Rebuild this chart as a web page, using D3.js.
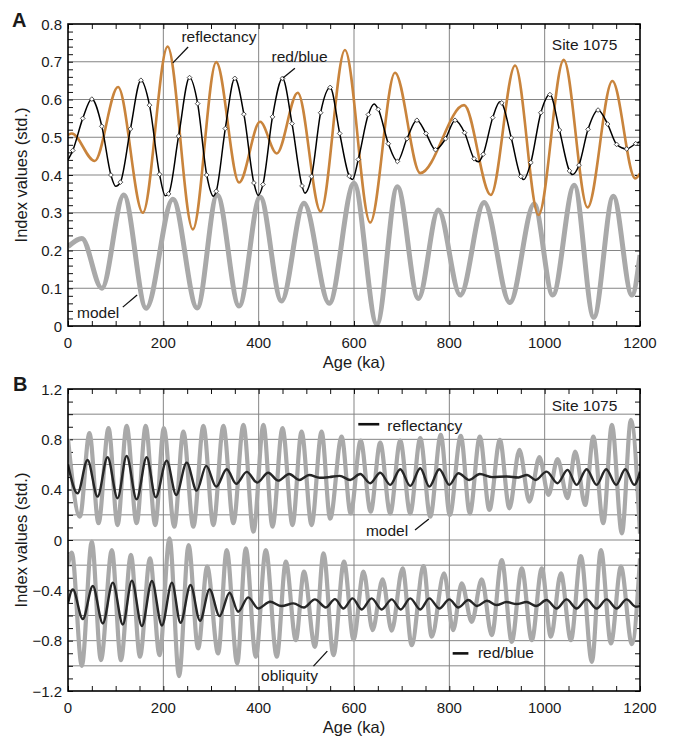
<!DOCTYPE html>
<html>
<head>
<meta charset="utf-8">
<script src="https://cdn.jsdelivr.net/npm/d3@7"></script>
<style>
body { margin: 0; background: #fff; }
text { font-family: "Liberation Sans", Arial, sans-serif; fill: #1a1a1a; }
</style>
</head>
<body>
<script>
// ---- panel A (age ka, index value) ----
var modelA = [[0,0.21],[29,0.232],[71,0.10],[117,0.347],[164,0.047],[220,0.336],[271,0.048],[313,0.347],
  [359,0.053],[403,0.342],[448,0.066],[495,0.325],[548,0.06],[600,0.378],[648,0.005],[691,0.369],
  [735,0.073],[777,0.307],[823,0.082],[873,0.327],[927,0.062],[978,0.323],[1017,0.082],[1062,0.373],
  [1103,0.023],[1144,0.344],[1183,0.082],[1200,0.188]];

var reflA = [[0,0.506],[8,0.51],[56,0.437],[105,0.633],[157,0.30],[209,0.74],[262,0.256],[311,0.699],
  [359,0.38],[403,0.541],[438,0.457],[482,0.618],[530,0.303],[581,0.731],[634,0.274],[686,0.671],
  [739,0.405],[831,0.585],[887,0.347],[938,0.69],[987,0.294],[1040,0.705],[1090,0.314],[1142,0.649],
  [1190,0.391],[1200,0.404]];

// red/blue samples (drawn with diamonds)
var rbSamplesA = [[10,0.465],[31,0.55],[50,0.601],[71,0.529],[90,0.40],[110,0.381],[131,0.522],[153,0.651],
  [171,0.585],[192,0.402],[211,0.35],[232,0.503],[255,0.658],[272,0.589],[291,0.40],[311,0.357],
  [330,0.523],[350,0.656],[369,0.561],[390,0.379],[409,0.375],[429,0.554],[450,0.656],[470,0.536],
  [491,0.371],[511,0.396],[530,0.565],[550,0.632],[570,0.51],[590,0.397],[609,0.441],[630,0.56],
  [651,0.574],[672,0.483],[691,0.436],[711,0.496],[732,0.545],[751,0.51],[771,0.467],[792,0.496],
  [812,0.545],[832,0.512],[852,0.443],[871,0.455],[891,0.552],[910,0.591],[930,0.498],[950,0.396],
  [971,0.433],[992,0.565],[1011,0.613],[1031,0.519],[1052,0.411],[1072,0.426],[1091,0.521],[1112,0.572],
  [1132,0.535],[1151,0.481],[1172,0.469],[1191,0.483]];
// turning points of the red/blue curve between samples
var rbTurnsA = [[0,0.44],[100,0.370],[204,0.345],[305,0.344],[399,0.346],[497,0.352],[597,0.388],
  [642,0.588],[861,0.435],[906,0.594],[956,0.388],[1058,0.401],[1200,0.488]];

// ---- panel B ----
var modelB = [[0,0.80],[25,0.186],[45,0.849],[64,0.133],[85,0.889],[104,0.119],[123,0.907],[144,0.133],
  [163,0.907],[183,0.119],[201,0.889],[223,0.106],[242,0.862],[263,0.106],[284,0.907],[305,0.119],
  [326,0.907],[347,0.133],[368,0.915],[389,0.066],[410,0.915],[429,0.106],[450,0.889],[471,0.119],
  [490,0.862],[511,0.119],[532,0.862],[550,0.17],[574,0.822],[593,0.212],[614,0.79],[635,0.225],
  [655,0.774],[676,0.212],[697,0.79],[718,0.212],[739,0.809],[760,0.186],[782,0.835],[801,0.199],
  [824,0.827],[843,0.212],[864,0.822],[884,0.239],[906,0.796],[926,0.252],[947,0.716],[968,0.305],
  [989,0.658],[1008,0.358],[1027,0.642],[1048,0.332],[1064,0.703],[1085,0.278],[1102,0.822],[1123,0.133],
  [1141,0.915],[1162,0.053],[1181,0.955],[1200,0.05]];

var reflB = [[0,0.60],[20,0.371],[41,0.636],[62,0.345],[83,0.658],[104,0.332],[123,0.668],[144,0.324],
  [165,0.658],[184,0.34],[207,0.631],[227,0.358],[249,0.615],[270,0.392],[290,0.589],[311,0.424],
  [333,0.562],[353,0.446],[375,0.541],[397,0.456],[420,0.535],[441,0.472],[464,0.525],[485,0.477],
  [506,0.517],[528,0.495],[548,0.50],[570,0.51],[592,0.477],[613,0.525],[634,0.451],[655,0.535],
  [676,0.438],[697,0.562],[718,0.43],[739,0.57],[758,0.424],[779,0.562],[800,0.438],[819,0.531],
  [842,0.477],[864,0.525],[890,0.50],[920,0.505],[945,0.497],[963,0.517],[981,0.477],[1004,0.543],
  [1027,0.451],[1048,0.557],[1067,0.438],[1088,0.562],[1109,0.438],[1129,0.562],[1150,0.438],
  [1169,0.562],[1188,0.438],[1200,0.543]];

var obliqB = [[0,-0.2],[8,-0.1],[29,-1.0],[50,-0.013],[69,-0.955],[92,-0.08],[111,-0.955],[132,-0.119],
  [151,-0.928],[172,-0.146],[192,-0.915],[213,0.013],[233,-1.082],[253,-0.04],[273,-0.862],[292,-0.212],
  [315,-0.902],[333,-0.08],[355,-0.981],[373,-0.066],[394,-0.928],[415,-0.08],[438,-0.928],[457,-0.172],
  [478,-0.796],[495,-0.252],[518,-0.849],[536,-0.106],[557,-0.915],[579,-0.172],[599,-0.79],[620,-0.252],
  [639,-0.716],[660,-0.313],[679,-0.721],[702,-0.225],[721,-0.835],[746,-0.207],[763,-0.769],[789,-0.265],
  [808,-0.716],[826,-0.345],[847,-0.65],[868,-0.313],[889,-0.756],[910,-0.159],[931,-0.809],[952,-0.225],
  [973,-0.796],[994,-0.225],[1013,-0.769],[1034,-0.265],[1055,-0.796],[1076,-0.127],[1099,-0.968],
  [1118,-0.08],[1139,-0.822],[1160,-0.212],[1183,-0.827],[1200,-0.146]];

var rbB = [[0,-0.504],[10,-0.392],[31,-0.628],[52,-0.366],[73,-0.663],[94,-0.339],[115,-0.671],[134,-0.324],
  [155,-0.684],[176,-0.326],[197,-0.679],[218,-0.339],[236,-0.658],[257,-0.358],[277,-0.642],[297,-0.392],
  [318,-0.605],[339,-0.419],[357,-0.57],[378,-0.456],[399,-0.544],[424,-0.491],[448,-0.525],[473,-0.504],
  [495,-0.536],[518,-0.472],[541,-0.536],[560,-0.47],[578,-0.544],[597,-0.464],[616,-0.552],[637,-0.464],
  [658,-0.552],[679,-0.472],[698,-0.552],[718,-0.464],[739,-0.552],[758,-0.464],[779,-0.544],[800,-0.472],
  [819,-0.536],[840,-0.477],[858,-0.525],[879,-0.483],[899,-0.517],[920,-0.493],[941,-0.509],[962,-0.493],
  [982,-0.525],[1004,-0.477],[1025,-0.544],[1046,-0.472],[1067,-0.544],[1088,-0.472],[1109,-0.544],
  [1130,-0.472],[1151,-0.544],[1172,-0.472],[1191,-0.53],[1200,-0.525]];

var xLabels = [0,200,400,600,800,1000,1200];
var yLabelsA = [0,0.1,0.2,0.3,0.4,0.5,0.6,0.7,0.8];
var yLabelsB = [-1.2,-0.8,-0.4,0,0.4,0.8,1.2];

var width = 673, height = 740;
var orange = "#c9843c", gray = "#a9a9a9", gridCol = "#858585";

var svg = d3.select("body").append("svg")
    .attr("width", width)
    .attr("height", height);

var x = d3.scaleLinear().domain([0, 1200]).range([68, 640]);
var yA = d3.scaleLinear().domain([0, 0.8]).range([326, 24]);
var yB = d3.scaleLinear().domain([-1.2, 1.2]).range([691, 389]);

var fmt = function(d) { return d === 0 ? "0" : d3.format(".1f")(d); };

function frame(id, y, hGrid, leftMinor, rightMinor, yLabels) {
  var g = svg.append("g");
  var r = y.range();
  svg.append("clipPath").attr("id", id)
    .append("rect").attr("x", 68).attr("y", r[1]).attr("width", 572).attr("height", r[0] - r[1]);

  // grid
  g.selectAll(".hg").data(hGrid).enter().append("line")
      .attr("x1", 68).attr("x2", 640)
      .attr("y1", function(d) { return y(d); }).attr("y2", function(d) { return y(d); })
      .attr("stroke", gridCol).attr("stroke-width", 1);
  g.selectAll(".vg").data([200, 400, 600, 800, 1000]).enter().append("line")
      .attr("y1", r[0]).attr("y2", r[1])
      .attr("x1", function(d) { return x(d); }).attr("x2", function(d) { return x(d); })
      .attr("stroke", gridCol).attr("stroke-width", 1);

  var ages = d3.range(0, 1201, 50);
  // inward minor ticks
  var ax = [
    g.append("g").attr("transform", "translate(0," + r[0] + ")")
      .call(d3.axisBottom(x).tickValues(ages).tickSize(-5).tickFormat("")),
    g.append("g").attr("transform", "translate(0," + r[1] + ")")
      .call(d3.axisTop(x).tickValues(ages).tickSize(-5).tickFormat("")),
    g.append("g").attr("transform", "translate(68,0)")
      .call(d3.axisLeft(y).tickValues(leftMinor).tickSize(-5).tickFormat("")),
    g.append("g").attr("transform", "translate(640,0)")
      .call(d3.axisRight(y).tickValues(rightMinor).tickSize(-5).tickFormat(""))
  ];
  ax.forEach(function(a) {
    a.select(".domain").remove();
    a.selectAll("line").attr("stroke", "#111");
  });

  // labels
  g.selectAll(".xl").data(xLabels).enter().append("text")
      .attr("x", function(d) { return x(d); }).attr("y", r[0] + 22)
      .attr("text-anchor", "middle").attr("font-size", 15)
      .text(function(d) { return d; });
  g.selectAll(".yl").data(yLabels).enter().append("text")
      .attr("x", 62).attr("y", function(d) { return y(d) + 5.5; })
      .attr("text-anchor", "end").attr("font-size", 15)
      .text(fmt);

  g.append("text").attr("x", 354).attr("y", r[0] + 42)
      .attr("text-anchor", "middle").attr("font-size", 16.5).text("Age (ka)");
  g.append("text")
      .attr("transform", "translate(27," + (r[0] + r[1]) / 2 + ") rotate(-90)")
      .attr("text-anchor", "middle").attr("font-size", 16.5).text("Index values (std.)");
  return g;
}

function border(y) {
  var r = y.range();
  svg.append("rect").attr("x", 68).attr("y", r[1]).attr("width", 572).attr("height", r[0] - r[1])
      .attr("fill", "none").attr("stroke", "#000").attr("stroke-width", 1.6);
}

function curve(y) {
  return d3.line()
      .x(function(d) { return x(d[0]); })
      .y(function(d) { return y(d[1]); })
      .curve(d3.curveMonotoneX);
}

function leader(y, a, b) {
  svg.append("line")
      .attr("x1", x(a[0])).attr("y1", y(a[1])).attr("x2", x(b[0])).attr("y2", y(b[1]))
      .attr("stroke", "#111").attr("stroke-width", 1.3);
}

function label(y, p, s) {
  svg.append("text").attr("x", x(p[0])).attr("y", y(p[1]))
      .attr("font-size", 15.5).text(s);
}

// ===== panel A =====
frame("clipA", yA, [0.1,0.2,0.3,0.4,0.5,0.6,0.7],
    d3.range(0, 41).map(function(i) { return i * 0.02; }),
    d3.range(0, 21).map(function(i) { return i * 0.04; }), yLabelsA);

var pA = svg.append("g").attr("clip-path", "url(#clipA)");
pA.append("path").datum(modelA).attr("d", curve(yA))
    .attr("fill", "none").attr("stroke", gray).attr("stroke-width", 5);
pA.append("path").datum(reflA).attr("d", curve(yA))
    .attr("fill", "none").attr("stroke", orange).attr("stroke-width", 2.6);
var rbA = rbTurnsA.concat(rbSamplesA).sort(function(a, b) { return a[0] - b[0]; });
pA.append("path").datum(rbA).attr("d", curve(yA))
    .attr("fill", "none").attr("stroke", "#000").attr("stroke-width", 1.5);
pA.selectAll(".mk").data(rbSamplesA).enter().append("path")
    .attr("d", d3.symbol(d3.symbolSquare).size(11))
    .attr("transform", function(d) { return "translate(" + x(d[0]) + "," + yA(d[1]) + ") rotate(45)"; })
    .attr("fill", "#fff").attr("stroke", "#333").attr("stroke-width", 0.8);
border(yA);

leader(yA, [220, 0.697], [252, 0.739]);
label(yA, [238, 0.753], "reflectancy");
leader(yA, [451, 0.657], [476, 0.683]);
label(yA, [427, 0.700], "red/blue");
leader(yA, [115, 0.050], [145, 0.082]);
label(yA, [19, 0.021], "model");
label(yA, [1015, 0.731], "Site 1075");

svg.append("text").attr("x", 12).attr("y", 27)
    .attr("font-size", 20).attr("font-weight", "bold").text("A");

// ===== panel B =====
frame("clipB", yB, [-1.0,-0.8,-0.6,-0.4,-0.2,0,0.2,0.4,0.6,0.8,1.0],
    d3.range(-12, 13).map(function(i) { return i / 10; }),
    d3.range(-12, 13).map(function(i) { return i / 10; }), yLabelsB);

var pB = svg.append("g").attr("clip-path", "url(#clipB)");
pB.append("path").datum(modelB).attr("d", curve(yB))
    .attr("fill", "none").attr("stroke", gray).attr("stroke-width", 4.2);
pB.append("path").datum(obliqB).attr("d", curve(yB))
    .attr("fill", "none").attr("stroke", gray).attr("stroke-width", 4.2);
pB.append("path").datum(reflB).attr("d", curve(yB))
    .attr("fill", "none").attr("stroke", "#262626").attr("stroke-width", 2.4);
pB.append("path").datum(rbB).attr("d", curve(yB))
    .attr("fill", "none").attr("stroke", "#262626").attr("stroke-width", 2.4);
border(yB);

svg.append("line").attr("x1", x(609)).attr("x2", x(653)).attr("y1", yB(0.92)).attr("y2", yB(0.92))
    .attr("stroke", "#111").attr("stroke-width", 2.6);
label(yB, [670, 0.867], "reflectancy");
leader(yB, [728, 0.08], [757, 0.167]);
label(yB, [625, 0.032], "model");
leader(yB, [515, -1.002], [544, -0.883]);
label(yB, [405, -1.122], "obliquity");
svg.append("line").attr("x1", x(807)).attr("x2", x(840)).attr("y1", yB(-0.901)).attr("y2", yB(-0.901))
    .attr("stroke", "#111").attr("stroke-width", 2.6);
label(yB, [860, -0.939], "red/blue");
label(yB, [1015, 1.026], "Site 1075");

svg.append("text").attr("x", 13).attr("y", 391)
    .attr("font-size", 20).attr("font-weight", "bold").text("B");
</script>
</body>
</html>
